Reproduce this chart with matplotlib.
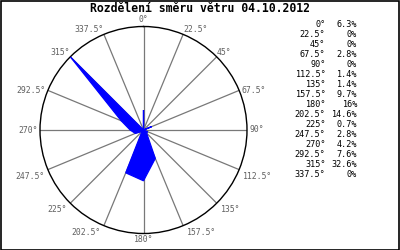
import numpy as np
import matplotlib
matplotlib.use("Agg")
import matplotlib.pyplot as plt
from matplotlib.patches import Rectangle

title = "Rozdělení směru větru 04.10.2012"
directions = [0, 22.5, 45, 67.5, 90, 112.5, 135, 157.5, 180, 202.5, 225, 247.5, 270, 292.5, 315, 337.5]
dir_labels = ["0°", "22.5°", "45°", "67.5°", "90°", "112.5°", "135°", "157.5°", "180°",
              "202.5°", "225°", "247.5°", "270°", "292.5°", "315°", "337.5°"]
percents = [6.3, 0, 0, 2.8, 0, 1.4, 1.4, 9.7, 16, 14.6, 0.7, 2.8, 4.2, 7.6, 32.6, 0]
percent_labels = ["6.3%", "0%", "0%", "2.8%", "0%", "1.4%", "1.4%", "9.7%", "16%", "14.6%",
                  "0.7%", "2.8%", "4.2%", "7.6%", "32.6%", "0%"]

W, H = 400, 250
fig = plt.figure(figsize=(W / 100, H / 100), dpi=100)
fig.patch.set_facecolor("white")

cx, cy, R = 143.5, 130.0, 103.5
ax = fig.add_axes([(cx - R) / W, (H - cy - R) / H, 2 * R / W, 2 * R / H], projection="polar")
ax.set_theta_zero_location("N")
ax.set_theta_direction(-1)
rmax = max(percents)
ax.set_ylim(0, rmax)
ax.set_yticks([])
ax.set_thetagrids(directions, labels=[""] * len(directions))
ax.set_axisbelow(True)
ax.grid(True, color="#787878", linewidth=0.9)
ax.spines["polar"].set_color("black")
ax.spines["polar"].set_linewidth(1.0)
ax.tick_params(axis="x", length=0)

th = np.deg2rad(np.array(directions + [directions[0]]))
rv = np.array(percents + [percents[0]])
ax.fill(th, rv, facecolor="#0000ff", edgecolor="#0000ff", linewidth=0.9, zorder=5)

mono = "DejaVu Sans Mono"
for d, lab in zip(directions, dir_labels):
    if d == 0:
        ha, va, dx, dy = "center", "bottom", 0, 2
    elif d in (22.5, 45):
        ha, va, dx, dy = "left", "bottom", 0, 0
    elif d in (67.5, 90):
        ha, va, dx, dy = "left", "center", 2, 0
    elif d in (112.5, 135, 157.5):
        ha, va, dx, dy = "left", "top", 4, -2
    elif d == 180:
        ha, va, dx, dy = "center", "top", 0, -2
    elif d in (202.5, 225, 247.5):
        ha, va, dx, dy = "right", "top", -3, -2
    elif d in (270, 292.5):
        ha, va, dx, dy = "right", "center", -2, 0
    else:
        ha, va, dx, dy = "right", "bottom", 0, 0
    ax.annotate(lab, xy=(np.deg2rad(d), rmax), xytext=(dx * 0.72, dy * 0.72),
                textcoords="offset points", ha=ha, va=va, fontsize=5.9,
                family=mono, color="#606060", annotation_clip=False)

fig.text(200 / W, 1 - 9 / H, title, ha="center", va="center", fontsize=8.3,
         family=mono, fontweight="bold", color="black")

y0, step = 24.5, 10.03
for i, (lab, pl) in enumerate(zip(dir_labels, percent_labels)):
    y = 1 - (y0 + i * step) / H
    fig.text(325.5 / W, y, lab, ha="right", va="center", fontsize=6.1, family=mono, color="black")
    fig.text(357 / W, y, pl, ha="right", va="center", fontsize=6.1, family=mono, color="black")

fig.patches.append(Rectangle((0.5 / W, 0.5 / H), (W - 1.5) / W, (H - 1.5) / H,
                             transform=fig.transFigure, fill=False, edgecolor="black",
                             linewidth=1.2))

fig.savefig("out.png", dpi=100)
